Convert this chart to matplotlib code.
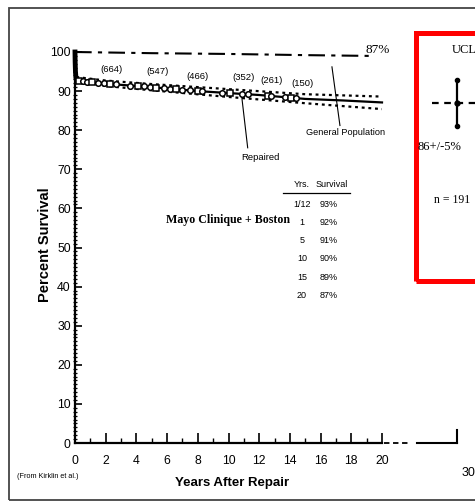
import numpy as np
import matplotlib
matplotlib.use("Agg")
import matplotlib.pyplot as plt
from matplotlib import font_manager as fm
from matplotlib.patches import Rectangle
from matplotlib.ticker import MultipleLocator

names = {f.name for f in fm.fontManager.ttflist}
NARROW = 'Liberation Sans Narrow' if 'Liberation Sans Narrow' in names else 'Liberation Sans'
SANS = 'Liberation Sans'
SERIF = 'Liberation Serif'

# ---------------- data ----------------
rep_t = [0, 0.01, 0.03, 0.06, 0.083, 0.5, 1, 2, 3, 5, 8, 10, 12, 15, 17.5, 20]
rep_s = [100, 97.5, 95, 93.5, 93, 92.5, 92.2, 92.0, 91.6, 91.0, 90.0, 89.5, 89.0, 88.0, 87.6, 87.1]
ci_t = [0.083, 2, 5, 10, 15, 20]
ci_up = [93.6, 92.7, 91.8, 90.5, 89.2, 88.6]
ci_lo = [92.4, 91.3, 90.2, 88.5, 86.9, 85.4]
gen_t = [0, 5, 10, 15, 19.2]
gen_s = [100, 99.7, 99.5, 99.2, 99.0]
cens_t = [0.25, 0.5, 0.8, 1.1, 1.5, 1.9, 2.3, 2.7, 3.6, 4.1, 4.5, 4.9, 5.3, 5.8, 6.2,
          6.6, 7.0, 7.5, 8.0, 8.3, 9.6, 10.1, 10.9, 11.3, 12.6, 12.8, 13.7, 14.1, 14.4]
cens_s = [92.7, 92.5, 92.3, 92.2, 92.1, 92.0, 91.9, 91.7, 91.4, 91.3, 91.2, 91.0, 90.9, 90.7, 90.6,
          90.5, 90.3, 90.2, 90.0, 89.9, 89.6, 89.5, 89.3, 89.2, 88.8, 88.7, 88.4, 88.3, 88.2]
risk_t = [2.4, 5.4, 8.0, 11.0, 12.8, 14.8]
risk_y = [95.6, 95.1, 93.8, 93.6, 92.6, 92.0]
risk_n = ["(664)", "(547)", "(466)", "(352)", "(261)", "(150)"]
tab_yrs = ["1/12", "1", "5", "10", "15", "20"]
tab_surv = ["93%", "92%", "91%", "90%", "89%", "87%"]
ucla_x = 30
ucla_s = 87.0
ucla_err = 5.9

W, H = 475, 504
fig = plt.figure(figsize=(W / 100, H / 100), dpi=100)
fig.patch.set_facecolor('white')

def px(x, y):
    return (x / W, 1 - y / H)

ax = fig.add_axes([75 / W, 1 - 443 / H, (382 - 75) / W, (443 - 52) / H])
ax.set_xlim(0, 20)
ax.set_ylim(0, 100)
for s in ['top', 'right']:
    ax.spines[s].set_visible(False)
ax.spines['left'].set_linewidth(1.6)
ax.spines['bottom'].set_linewidth(1.6)

ax.xaxis.set_major_locator(MultipleLocator(2))
ax.xaxis.set_minor_locator(MultipleLocator(1))
ax.yaxis.set_major_locator(MultipleLocator(10))
ax.yaxis.set_minor_locator(MultipleLocator(1))
ax.tick_params(axis='x', which='major', direction='in', length=7, width=1.2, pad=9)
ax.tick_params(axis='x', which='minor', direction='in', length=3.5, width=1.0)
ax.tick_params(axis='y', which='major', direction='in', length=5, width=1.2, pad=3)
ax.tick_params(axis='y', which='minor', direction='inout', length=3, width=0.9)
for lab in ax.get_xticklabels() + ax.get_yticklabels():
    lab.set_fontfamily(NARROW)
    lab.set_fontsize(8.8)

# curves
ax.plot(gen_t, gen_s, color='black', lw=1.5, ls=(0, (8, 3, 2, 3)), clip_on=False)
ax.plot(ci_t, ci_up, color='black', lw=1.6, ls=(0, (1.3, 1.7)))
ax.plot(ci_t, ci_lo, color='black', lw=1.6, ls=(0, (1.3, 1.7)))
ax.plot(rep_t, rep_s, color='black', lw=1.6, clip_on=False)
ax.plot(rep_t[:5], rep_s[:5], color='black', lw=3.5, clip_on=False)
for i, (t, s) in enumerate(zip(cens_t, cens_s)):
    ax.plot([t], [s], marker='o' if i % 3 else 's', ms=4.0, mfc='white', mec='black', mew=1.1,
            zorder=5)

for t, y, n in zip(risk_t, risk_y, risk_n):
    ax.text(t, y, n, fontsize=6.8, family=NARROW, ha='center', va='center')

ax.text(19.74, 100.5, "87%", fontsize=9.5, family=SERIF, ha='center', va='center')

# pointers
ax.plot([10.85, 11.25], [89.0, 75.5], color='black', lw=0.8)
ax.text(12.05, 72.9, "Repaired", fontsize=6.8, family=NARROW, ha='center', va='center')
ax.plot([16.74, 17.26], [96.2, 81.2], color='black', lw=0.8)
ax.text(17.65, 79.3, "General Population", fontsize=6.6, family=NARROW, ha='center', va='center')

ax.text(9.97, 57.0, "Mayo Clinique + Boston", fontsize=8.6, family=SERIF, weight='bold',
        ha='center', va='center')

# table
ax.text(14.79, 66.0, "Yrs.", fontsize=6.5, family=NARROW, ha='center', va='center')
ax.text(16.74, 66.0, "Survival", fontsize=6.5, family=NARROW, ha='center', va='center')
ax.plot([13.55, 17.9], [63.9, 63.9], color='black', lw=0.9)
tab_y = [61.1, 56.5, 51.9, 47.1, 42.2, 37.6]
for y, a, b in zip(tab_y, tab_yrs, tab_surv):
    ax.text(14.79, y, a, fontsize=6.5, family=NARROW, ha='center', va='center')
    ax.text(16.55, y, b, fontsize=6.5, family=NARROW, ha='center', va='center')

# broken axis continuation
ax.plot([20.1, 21.8], [0, 0], color='black', lw=1.3, ls=(0, (3, 2)), clip_on=False)

# UCLA panel (shares y scale)
ax2 = fig.add_axes([417 / W, 1 - 443 / H, (475 - 417) / W, (443 - 52) / H])
ax2.set_xlim(27.4, 27.4 + 58 / 15.35)
ax2.set_ylim(0, 100)
ax2.axis('off')
ax2.plot([27.4, 30], [0, 0], color='black', lw=1.5, clip_on=False)
ax2.plot([30, 30], [0, 3.2], color='black', lw=1.5, clip_on=False)
ax2.text(30.3, -7.7, "30", fontsize=9, family=NARROW, ha='left', va='center')
ax2.axhline(ucla_s, xmin=(432 - 417) / 58, xmax=1, color='black', lw=1.6, ls=(0, (3, 2.5)))
ax2.errorbar([ucla_x], [ucla_s], yerr=[ucla_err], fmt='o', ms=3.5, color='black', ecolor='black',
             elinewidth=1.6, capsize=0)
ax2.plot([ucla_x, ucla_x], [ucla_s - ucla_err, ucla_s + ucla_err], 'o', ms=3, color='black')
fig.text(*px(452, 50), "UCLA", fontsize=9, family=SERIF, ha='left', va='center')
fig.text(*px(417, 147), "86+/-5%", fontsize=9, family=SERIF, ha='left', va='center')
fig.text(*px(452, 200), "n = 191", fontsize=8.5, family=SERIF, ha='center', va='center')

# red box
fig.patches.append(Rectangle(px(415.5, 281), (490 - 415.5) / W, (281 - 33) / H,
                             transform=fig.transFigure, fill=False, edgecolor='#ff0000',
                             lw=3.6, clip_on=False))
# outer frame
fig.patches.append(Rectangle(px(8.5, 500), (490 - 8.5) / W, (500 - 7.5) / H,
                             transform=fig.transFigure, fill=False, edgecolor='#444444',
                             lw=1.3, clip_on=False))

# labels
fig.text(*px(45, 245), "Percent Survival", fontsize=10.5, family=SANS, weight='bold',
         rotation=90, ha='center', va='center')
fig.text(*px(232, 483), "Years After Repair", fontsize=9.5, family=NARROW, weight='bold',
         ha='center', va='center')
fig.text(*px(17, 476), "(From Kirklin et al.)", fontsize=5.2, family=NARROW, ha='left', va='center')

fig.savefig("out.png", dpi=100)
